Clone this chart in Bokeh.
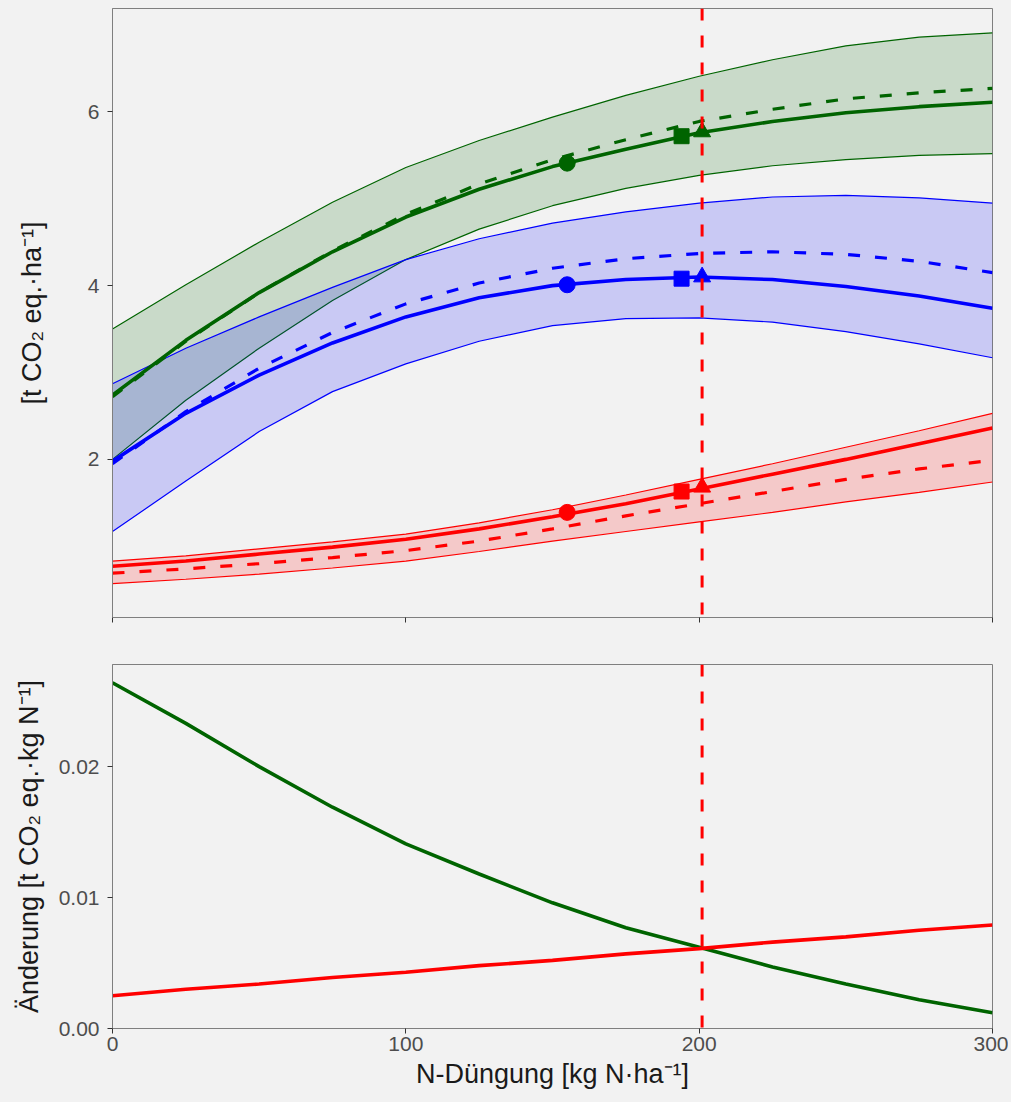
from bokeh.plotting import figure
from bokeh.layouts import column
from bokeh.models import Span, FixedTicker, Range1d
from bokeh.embed import file_html
from bokeh.resources import INLINE

# ---------------- data ----------------
n_rate = [0, 25, 50, 75, 100, 125, 150, 175, 200, 225, 250, 275, 300]

green_solid = [2.74, 3.37, 3.92, 4.39, 4.79, 5.11, 5.37, 5.57, 5.76, 5.89, 5.99, 6.06, 6.11]
green_dash  = [2.72, 3.36, 3.92, 4.40, 4.82, 5.17, 5.45, 5.68, 5.89, 6.03, 6.15, 6.22, 6.27]
green_upper = [3.50, 4.01, 4.50, 4.96, 5.36, 5.67, 5.94, 6.19, 6.41, 6.60, 6.76, 6.86, 6.91]
green_lower = [2.00, 2.68, 3.28, 3.83, 4.30, 4.65, 4.92, 5.12, 5.27, 5.38, 5.45, 5.50, 5.52]

blue_solid = [1.98, 2.53, 2.97, 3.34, 3.64, 3.86, 4.00, 4.07, 4.10, 4.07, 3.99, 3.88, 3.74]
blue_dash  = [1.95, 2.55, 3.05, 3.46, 3.79, 4.03, 4.20, 4.31, 4.37, 4.39, 4.36, 4.28, 4.15]
blue_upper = [2.87, 3.28, 3.64, 3.98, 4.30, 4.54, 4.72, 4.85, 4.95, 5.02, 5.04, 5.01, 4.95]
blue_lower = [1.17, 1.75, 2.32, 2.78, 3.10, 3.36, 3.54, 3.62, 3.63, 3.58, 3.47, 3.33, 3.17]

red_solid = [0.77, 0.83, 0.91, 0.99, 1.08, 1.20, 1.34, 1.49, 1.66, 1.83, 2.00, 2.18, 2.36]
red_dash  = [0.69, 0.74, 0.80, 0.87, 0.95, 1.06, 1.20, 1.35, 1.49, 1.63, 1.77, 1.89, 1.99]
red_upper = [0.83, 0.89, 0.97, 1.05, 1.14, 1.27, 1.42, 1.59, 1.77, 1.95, 2.14, 2.33, 2.53]
red_lower = [0.57, 0.62, 0.68, 0.75, 0.83, 0.94, 1.06, 1.17, 1.28, 1.39, 1.51, 1.62, 1.74]

# marker positions (N rate) and values
mark_x = [155, 194, 201]
green_marks = [5.41, 5.72, 5.77]
blue_marks = [4.01, 4.08, 4.10]
red_marks = [1.39, 1.63, 1.68]
mark_shapes = ["circle", "square", "triangle"]

# marginal change (bottom panel)
green_change = [0.0264, 0.0233, 0.0200, 0.0169, 0.0141, 0.0118, 0.0096, 0.0077, 0.0062, 0.0047, 0.0034, 0.0022, 0.0012]
red_change = [0.0025, 0.0030, 0.0034, 0.0039, 0.0043, 0.0048, 0.0052, 0.0057, 0.0061, 0.0066, 0.0070, 0.0075, 0.0079]

optimum_n = 201

x_ticks = [0, 100, 200, 300]
top_y_ticks = [2, 4, 6]
bottom_y_ticks = [0.0, 0.01, 0.02]
bottom_tick_labels = {0.0: "0.00", 0.01: "0.01", 0.02: "0.02"}
top_x_blank = {0: "", 100: "", 200: "", 300: ""}

top_ylabel = "[t CO\u2082 eq.\u00b7ha\u207b\u00b9]"
bottom_ylabel = "\u00c4nderung [t CO\u2082 eq.\u00b7kg N\u207b\u00b9]"
xlabel = "N-D\u00fcngung [kg N\u00b7ha\u207b\u00b9]"

# ---------------- styling ----------------
BG = "#F2F2F2"
FONT = "Liberation Sans"
GREEN = "#006400"
BLUE = "#0000FF"
RED = "#FF0000"
FRAME = "#7F7F7F"
DASH = "12 15"
FILL_ALPHA = 0.17


def style(p):
    p.background_fill_color = BG
    p.border_fill_color = BG
    p.outline_line_color = FRAME
    p.outline_line_width = 1
    p.xgrid.visible = False
    p.ygrid.visible = False
    for ax in (p.xaxis[0], p.yaxis[0]):
        ax.axis_line_color = FRAME
        ax.major_tick_line_color = "#333333"
        ax.major_tick_out = 5
        ax.major_tick_in = 0
        ax.minor_tick_line_color = None
        ax.major_label_text_font = FONT
        ax.major_label_text_font_size = "21px"
        ax.major_label_text_color = "#4D4D4D"
        ax.axis_label_text_font = FONT
        ax.axis_label_text_font_size = "27px"
        ax.axis_label_text_font_style = "normal"
        ax.axis_label_text_color = "#1A1A1A"
    p.xaxis[0].ticker = FixedTicker(ticks=x_ticks)


# ---------------- top panel ----------------
p1 = figure(width=1008, height=647, x_range=Range1d(0, 300), y_range=Range1d(0.18, 7.19),
            output_backend="svg", toolbar_location=None,
            min_border_left=112, min_border_right=16, min_border_top=8, min_border_bottom=30)
style(p1)
p1.yaxis[0].ticker = FixedTicker(ticks=top_y_ticks)
p1.yaxis[0].axis_label = top_ylabel
p1.yaxis[0].major_label_standoff = 8
p1.yaxis[0].axis_label_standoff = 38
p1.xaxis[0].major_label_overrides = top_x_blank

for up, lo, col in ((green_upper, green_lower, GREEN),
                    (blue_upper, blue_lower, BLUE),
                    (red_upper, red_lower, RED)):
    p1.varea(x=n_rate, y1=lo, y2=up, fill_color=col, fill_alpha=FILL_ALPHA)
    p1.line(n_rate, up, line_color=col, line_width=1.2)
    p1.line(n_rate, lo, line_color=col, line_width=1.2)

for sol, dsh, col in ((green_solid, green_dash, GREEN),
                      (blue_solid, blue_dash, BLUE),
                      (red_solid, red_dash, RED)):
    p1.line(n_rate, dsh, line_color=col, line_width=3.2, line_dash=DASH)
    p1.line(n_rate, sol, line_color=col, line_width=3.6)

for vals, col in ((green_marks, GREEN), (blue_marks, BLUE), (red_marks, RED)):
    for xv, yv, shp in zip(mark_x, vals, mark_shapes):
        size = {"circle": 16, "square": 15, "triangle": 17}[shp]
        p1.scatter([xv], [yv], marker=shp, size=size, fill_color=col, line_color=col)

p1.add_layout(Span(location=optimum_n, dimension="height", line_color=RED,
                   line_width=3, line_dash=DASH))

# ---------------- bottom panel ----------------
p2 = figure(width=1008, height=450, x_range=Range1d(0, 300), y_range=Range1d(0.0, 0.0278),
            output_backend="svg", toolbar_location=None,
            min_border_left=112, min_border_right=16, min_border_top=17, min_border_bottom=69)
style(p2)
p2.yaxis[0].ticker = FixedTicker(ticks=bottom_y_ticks)
p2.yaxis[0].major_label_overrides = bottom_tick_labels
p2.yaxis[0].axis_label = bottom_ylabel
p2.yaxis[0].major_label_standoff = 8
p2.yaxis[0].axis_label_standoff = 12
p2.xaxis[0].axis_label = xlabel
p2.xaxis[0].major_label_standoff = 3
p2.xaxis[0].axis_label_standoff = 5

p2.line(n_rate, green_change, line_color=GREEN, line_width=3.6)
p2.line(n_rate, red_change, line_color=RED, line_width=3.6)
p2.add_layout(Span(location=optimum_n, dimension="height", line_color=RED,
                   line_width=3, line_dash=DASH))

layout = column(p1, p2, spacing=0)
layout.styles = {"background-color": BG}

html = file_html(layout, INLINE)
html = html.replace("</head>", "<style>html, body { background-color: #F2F2F2; }</style></head>", 1)
open("out.html", "w").write(html)
